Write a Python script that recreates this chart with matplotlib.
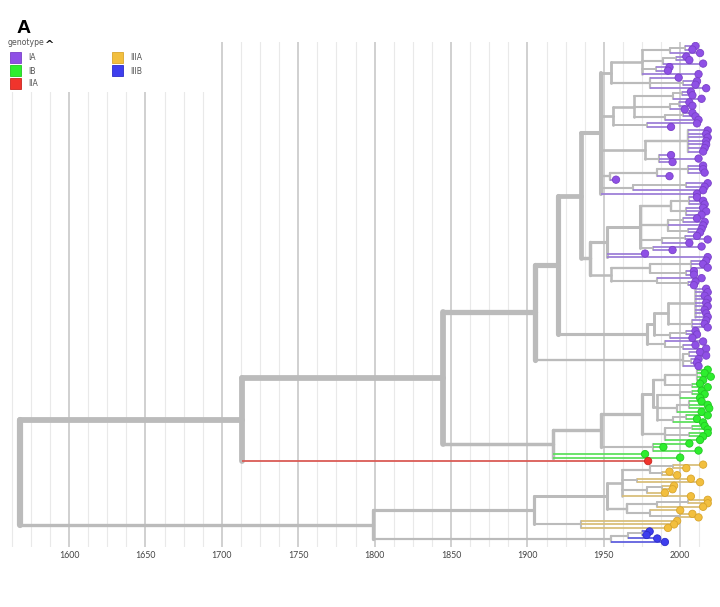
import matplotlib
matplotlib.use("Agg")
import matplotlib.pyplot as plt
from matplotlib.patches import Rectangle
import numpy as np

# --- tree data: newick-like strings, ":year" is the node date (not a branch length) ---
IA_TOP_1 = "((((IA:2010,IA:2008):2003,IA:2013):1993,((IA:2004,IA:2006):1997,IA:2015):1989,(IA:1993,IA:1992):1984,IA:2012):1975,(IA:1999,(IA:2011,IA:2010):2002,IA:2017):1980):1955"
IA_TOP_2 = "((((IA:2007,IA:2008):2001,IA:2014):1995,((IA:2006,IA:2008):1999,IA:2003):1993,((IA:2008,IA:2010):2002,IA:2012):1990):1970,(IA:2011,IA:1994):1978):1956"
IA_TOP_3 = "((IA:2018,IA:2017,IA:2018,IA:2017,IA:2017,IA:2016,IA:2015):2005,(IA:1994,IA:2012,IA:1995):1986):1977"
IA_TOP_4 = "(((IA:2015,IA:2015,IA:2016):2005,IA:1993):1985,IA:1958):1954"
IA_TOP_5 = "((IA:2018,IA:2016):2004,IA:2015):1969"
IA_TOP_6 = "IA:2011"
IA_MID_1 = "((((IA:2011,IA:2015,IA:2016):2006,(IA:2015,IA:2017,IA:2014):2004):1994,((IA:2011,IA:2016):2002,IA:2015,(IA:2014,IA:2013):2005):1992,((IA:2011,IA:2018):2003,IA:2006):1988,(IA:2014,IA:1995):1982):1974,IA:1977,IA:2018):1952"
IA_MID_2 = "(((IA:2017,IA:2015,IA:2018):2007,(IA:2009,IA:2009):2004):1980,(IA:2014,(IA:2010,IA:2009):2005):1985):1955"
IA_LOW = "((((IA:2017,IA:2018,IA:2016,IA:2018,IA:2017,IA:2018,IA:2016,IA:2017,IA:2018):2010,(IA:2017,IA:2016,IA:2018):2008):1992,((IA:2010,IA:2011):2004,IA:2008):1993):1983,(IA:2015,(IA:2010,IA:2017):2002):1990):1978"
IA_TAIL = "((IA:2013,IA:2017):2006,(IA:2012,IA:2011):2007,IA:2012):2002"

IB_1 = "((IB:2018,IB:2016,IB:2020,IB:2015):2011,(IB:2013,IB:2018):2008):1990"
IB_2 = "(((IB:2014,IB:2016):2008,IB:2013):2000,((IB:2014,IB:2018,IB:2019):2006,IB:2014):1998,((IB:2018,IB:2011):2004,IB:2015):1995):1985"
IB_3 = "((IB:2016,IB:2018):2008,(IB:2018,IB:2015):2006,IB:2013):1990"
IB_4 = "(IB:2006,IB:1989,IB:2012):1982"
IB_SINGLE = ["IB:1977", "IB:2000"]

IIA_1 = "IIA:1979"

IIIA_1 = "(((IIIA:2015,IIIA:2004):1995,(IIIA:1993,IIIA:1998):1988):1980,(IIIA:2007,IIIA:2013):1972,((IIIA:1996,IIIA:1995):1988,IIIA:1990):1978,IIIA:2007):1962"
IIIA_2 = "(((IIIA:2018,IIIA:2018):2005,IIIA:2015):1985,(IIIA:2000,(IIIA:2008,IIIA:2012):2000):1980):1965"
IIIA_3 = "(IIIA:1998,IIIA:1996,IIIA:1992):1935"
IIIB_1 = "(((IIIB:1980,IIIB:1978):1975,IIIB:1985):1966,IIIB:1990):1955"

# backbone node dates
BACKBONE = {
    "ia_top": 1948, "ia_mid": 1941, "ia_up": 1935, "ia_main": 1920, "ia_all": 1905,
    "ib_up": 1982, "ib_up2": 1975, "ib_clade": 1948, "ib_all": 1917,
    "n1845": 1845, "n1713": 1713,
    "iiia_a": 1952, "iiia": 1904, "n1799": 1799, "root": 1568,
}

GENOTYPES = ["IA", "IB", "IIA", "IIIA", "IIIB"]
TIP_COLORS = ["#8F50E6", "#2EEE2E", "#F0342C", "#F2BF3E", "#3E3EEE"]
TIP_EDGES = ["#7A40C8", "#22C822", "#C82620", "#D9A52C", "#2C2CC8"]
BRANCH_COLORS = ["#9E80D8", "#5FE05F", "#DA5C56", "#D9BF7C", "#6060DE"]
GREY = "#BBBBBB"

YEAR_TICKS = [1600, 1650, 1700, 1750, 1800, 1850, 1900, 1950, 2000]


def build_newick():
    b = BACKBONE
    ia_top = f"({IA_TOP_1},{IA_TOP_2},{IA_TOP_3},{IA_TOP_4},{IA_TOP_5},{IA_TOP_6}):{b['ia_top']}"
    ia_mid = f"({IA_MID_1},{IA_MID_2}):{b['ia_mid']}"
    ia_up = f"({ia_top},{ia_mid}):{b['ia_up']}"
    ia_main = f"({ia_up},{IA_LOW}):{b['ia_main']}"
    ia_all = f"({ia_main},{IA_TAIL}):{b['ia_all']}"
    ib_up = f"({IB_1},{IB_2}):{b['ib_up']}"
    ib_up2 = f"({ib_up},{IB_3}):{b['ib_up2']}"
    ib_clade = f"({ib_up2},{IB_4}):{b['ib_clade']}"
    ib_all = f"({ib_clade},{','.join(IB_SINGLE)}):{b['ib_all']}"
    n1845 = f"({ia_all},{ib_all}):{b['n1845']}"
    n1713 = f"({n1845},{IIA_1}):{b['n1713']}"
    iiia_a = f"({IIIA_1},{IIIA_2}):{b['iiia_a']}"
    iiia = f"({iiia_a},{IIIA_3}):{b['iiia']}"
    n1799 = f"({iiia},{IIIB_1}):{b['n1799']}"
    return f"({n1713},{n1799}):{b['root']}"


def parse_newick(text):
    text = text.replace(" ", "")
    pos = 0

    def read_node():
        nonlocal pos
        kids = []
        if text[pos] == "(":
            pos += 1
            kids.append(read_node())
            while text[pos] == ",":
                pos += 1
                kids.append(read_node())
            pos += 1
        start = pos
        while text[pos] != ":":
            pos += 1
        name = text[start:pos]
        pos += 1
        start = pos
        while pos < len(text) and text[pos] not in ",)":
            pos += 1
        return {"name": name, "date": float(text[start:pos]), "kids": kids}

    return read_node()


tree = parse_newick(build_newick())
tips = []


def layout(node):
    if not node["kids"]:
        node["y"] = len(tips)
        node["ntips"] = 1
        tips.append(node)
        return
    for k in node["kids"]:
        layout(k)
    node["y"] = (node["kids"][0]["y"] + node["kids"][-1]["y"]) / 2
    node["ntips"] = sum(k["ntips"] for k in node["kids"])


layout(tree)
n_tips = len(tips)

# --- figure geometry (pixels of a 720x607 canvas) ---
W, H = 720, 607
fig = plt.figure(figsize=(W / 100, H / 100), dpi=100)
fig.patch.set_facecolor("white")

x0, x1 = 1560, 2025
px_per_year = 1.528
ax_left = 69 - (1600 - x0) * px_per_year
ax_right = 69 + (x1 - 1600) * px_per_year
top_tip, bot_tip = 46, 542
ax_top, ax_bot = 42, 547
s = (bot_tip - top_tip) / (n_tips - 1)
ax = fig.add_axes([ax_left / W, 1 - ax_bot / H, (ax_right - ax_left) / W, (ax_bot - ax_top) / H])
ax.set_xlim(x0, x1)
ax.set_ylim((n_tips - 1) + (ax_bot - bot_tip) / s, -(top_tip - ax_top) / s)

for yr in np.arange(1562.5, x1, 12.5):
    if yr % 50 == 0:
        ax.axvline(yr, color="#CDCDCD", lw=1.3, zorder=0)
    else:
        ax.axvline(yr, color="#E9E9E9", lw=0.8, zorder=0)


def width(node):
    return (1.4 + 4.8 * np.sqrt(node["ntips"] / n_tips)) * 0.72


def draw(node, parent_date):
    lw = width(node)
    if node["kids"]:
        ax.plot([parent_date, node["date"]], [node["y"], node["y"]], color=GREY, lw=lw,
                solid_capstyle="round", zorder=2)
        ax.plot([node["date"], node["date"]], [node["kids"][0]["y"], node["kids"][-1]["y"]],
                color=GREY, lw=lw, solid_capstyle="round", zorder=2)
        for k in node["kids"]:
            draw(k, node["date"])
    else:
        gi = GENOTYPES.index(node["name"])
        ax.plot([parent_date, node["date"]], [node["y"], node["y"]], color=BRANCH_COLORS[gi],
                lw=lw, solid_capstyle="butt", zorder=3)


draw(tree, tree["date"])

gi = [GENOTYPES.index(t["name"]) for t in tips]
ax.scatter([t["date"] for t in tips], [t["y"] for t in tips],
           s=28, c=[TIP_COLORS[i] for i in gi], edgecolors=[TIP_EDGES[i] for i in gi],
           linewidths=0.6, zorder=4)

for sp in ax.spines.values():
    sp.set_visible(False)
ax.set_yticks([])
ax.set_xticks(YEAR_TICKS)
ax.set_xticklabels([str(y) for y in YEAR_TICKS], fontsize=6.3, color="#444444", family="Lato")
ax.tick_params(axis="x", length=0, pad=3)

# --- legend block (white background over the grid) ---
def fx(px):
    return px / W


def fy(py):
    return 1 - py / H


fig.add_artist(Rectangle((0, fy(92)), fx(216), 92 / H, transform=fig.transFigure,
                         facecolor="white", edgecolor="none", zorder=5))
fig.text(fx(17), fy(33), "A", fontsize=14, fontweight="bold", family="Liberation Sans",
         va="baseline", zorder=6)
fig.text(fx(8), fy(45), "genotype", fontsize=5.6, color="#555555", va="baseline", zorder=6)
fig.text(fx(45), fy(48), "^", fontsize=8, fontweight="bold", color="#111111", va="baseline", zorder=6)

legend_pos = [(10, 52), (10, 65), (10, 78), (112, 52), (112, 65)]
for (lx, ly), g, fc, ec in zip(legend_pos, GENOTYPES, TIP_COLORS, TIP_EDGES):
    fig.add_artist(Rectangle((fx(lx), fy(ly + 11)), 11 / W, 11 / H, transform=fig.transFigure,
                             facecolor=fc, edgecolor=ec, lw=0.6, zorder=6))
    fig.text(fx(lx + 18), fy(ly + 6), g, fontsize=5.6, color="#555555", va="center", zorder=6)

fig.savefig("out.png", dpi=100, facecolor="white")
plt.close(fig)
